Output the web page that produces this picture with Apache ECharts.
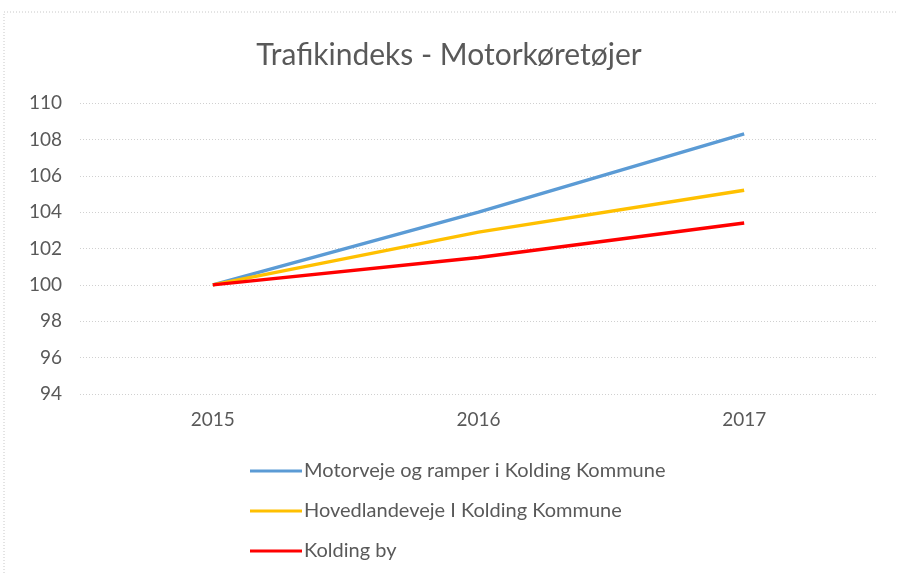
<!DOCTYPE html>
<html>
<head>
<meta charset="utf-8">
<script src="https://cdn.jsdelivr.net/npm/echarts@6/dist/echarts.min.js"></script>
<style>
  html, body { margin: 0; padding: 0; background: #fff; }
  #chart { width: 898px; height: 574px; }
</style>
</head>
<body>
<div id="chart"></div>
<script>
const years = ['2015', '2016', '2017']
const motorveje = [100, 104.0, 108.3]
const hovedlandeveje = [100, 102.9, 105.2]
const koldingBy = [100, 101.5, 103.4]

const seriesNames = [
  'Motorveje og ramper i Kolding Kommune',
  'Hovedlandeveje I Kolding Kommune',
  'Kolding by'
]

const textColor = '#595959'
const font = 'Lato, "Open Sans", sans-serif'

const chart = echarts.init(document.getElementById('chart'))

function lineSeries(name, data, color) {
  return {
    name: name,
    type: 'line',
    data: data,
    symbol: 'none',
    lineStyle: { color: color, width: 3.5 },
    itemStyle: { color: color }
  }
}

chart.setOption({
  animation: false,
  textStyle: { fontFamily: font },
  title: {
    text: 'Trafikindeks - Motorkøretøjer',
    left: 'center',
    top: 35,
    textStyle: { color: textColor, fontSize: 30, fontWeight: 'normal', fontFamily: font }
  },
  graphic: [{
    type: 'rect',
    shape: { x: 4, y: 12, width: 900, height: 600 },
    style: { fill: 'none', stroke: '#c8c8c8', lineWidth: 1, lineDash: [1, 2] },
    silent: true
  }],
  grid: { left: 80, right: 21, top: 103, bottom: 180 },
  legend: {
    orient: 'vertical',
    left: 245,
    top: 456,
    itemWidth: 52,
    itemHeight: 3,
    itemGap: 20,
    icon: 'rect',
    textStyle: { color: textColor, fontSize: 20, fontFamily: font, padding: [0, 0, 0, -3] },
    data: seriesNames
  },
  xAxis: {
    type: 'category',
    data: years,
    axisLine: { show: false },
    axisTick: { show: false },
    axisLabel: { color: textColor, fontSize: 19, margin: 16 }
  },
  yAxis: {
    type: 'value',
    min: 94,
    max: 110,
    interval: 2,
    axisLine: { show: false },
    axisTick: { show: false },
    axisLabel: { color: textColor, fontSize: 19, margin: 18 },
    splitLine: { lineStyle: { color: '#d0d0d0', type: [1, 2], width: 1 } }
  },
  series: [
    lineSeries(seriesNames[0], motorveje, '#5B9BD5'),
    lineSeries(seriesNames[1], hovedlandeveje, '#FFC000'),
    lineSeries(seriesNames[2], koldingBy, '#FF0000')
  ]
})
</script>
</body>
</html>
